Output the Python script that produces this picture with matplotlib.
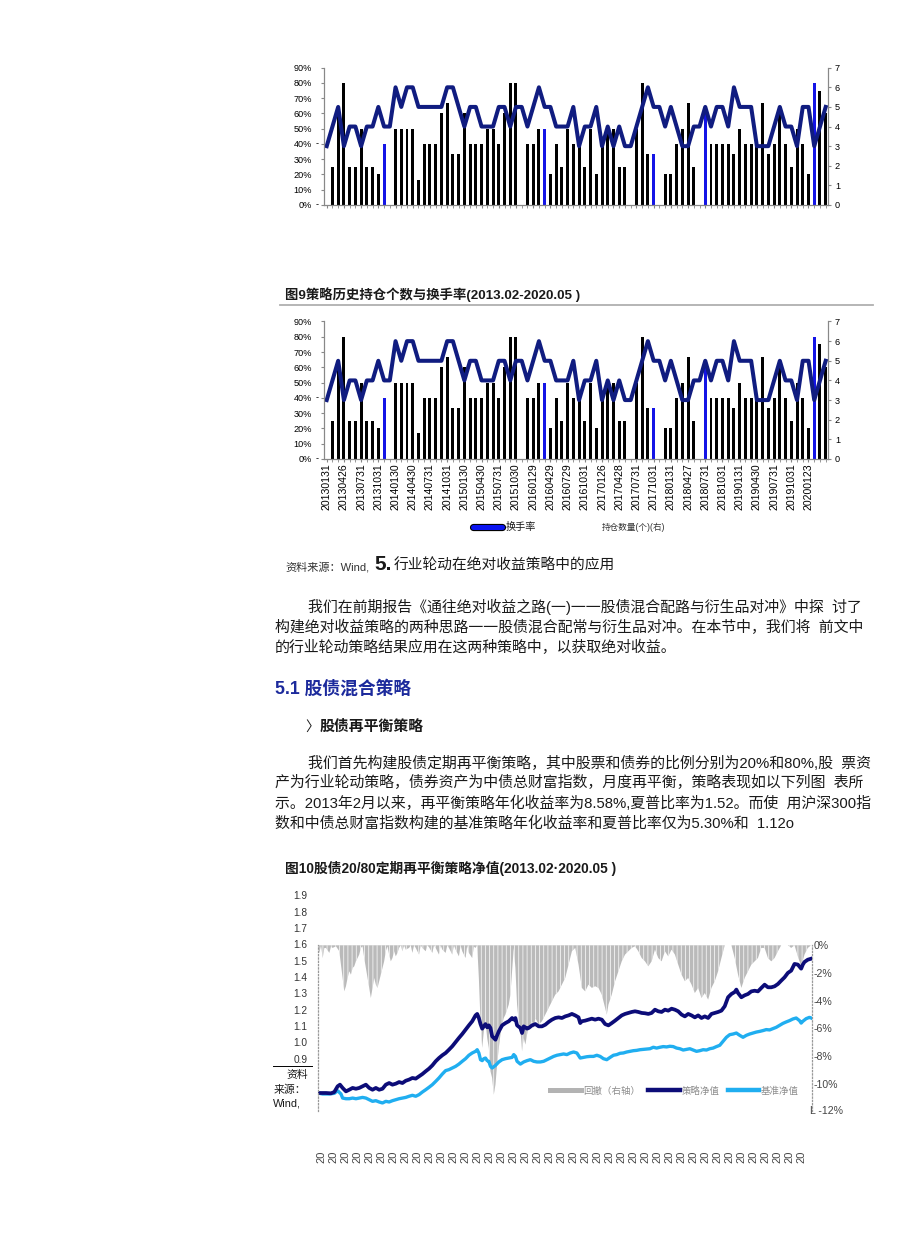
import numpy as np
import matplotlib
matplotlib.use("Agg")
import matplotlib.pyplot as plt
from matplotlib.lines import Line2D
import matplotlib.patheffects as pe

plt.rcParams['font.family'] = ['Liberation Sans', 'Noto Sans CJK SC']
plt.rcParams['hatch.linewidth'] = 0.5

W, H = 920, 1237

# ---- 图9: monthly turnover (bars, left %) and number of holdings (line, right) ----
turnover = [0, 25, 60, 80, 25, 25, 50, 25, 25, 20,
            40, 0, 50, 50, 50, 50, 16.7, 40, 40, 40,
            60, 66.7, 33.3, 33.3, 60, 40, 40, 40, 50, 50,
            40, 60, 80, 80, 0, 40, 40, 50, 50, 20,
            40, 25, 50, 40, 40, 25, 50, 20, 40, 50,
            50, 25, 25, 0, 50, 80, 33.3, 33.3, 0, 20,
            20, 40, 50, 66.7, 25, 0, 60, 40, 40, 40,
            40, 33.3, 50, 40, 40, 40, 66.7, 33.3, 40, 60,
            40, 25, 50, 40, 20, 80, 75, 60]
holdings = [3, 4, 5, 3, 4, 4, 3, 4, 4, 5,
            4, 4, 6, 5, 6, 6, 5, 5, 5, 5,
            5, 6, 6, 5, 4, 5, 5, 4, 4, 4,
            5, 5, 4, 5, 5, 4, 5, 6, 5, 5,
            4, 4, 4, 5, 3, 4, 4, 5, 3, 4,
            3, 4, 3, 3, 4, 5, 6, 5, 5, 4,
            5, 4, 3, 3, 4, 4, 5, 4, 5, 5,
            4, 6, 5, 5, 5, 3, 3, 3, 4, 5,
            4, 4, 3, 5, 5, 3, 4, 5]
blue_idx = [10, 38, 57, 66, 85]
date_labels = ['20130131', '20130426', '20130731', '20131031', '20140130', '20140430',
               '20140731', '20141031', '20150130', '20150430', '20150731', '20151030',
               '20160129', '20160429', '20160729', '20161031', '20170126', '20170428',
               '20170731', '20171031', '20180131', '20180427', '20180731', '20181031',
               '20190131', '20190430', '20190731', '20191031', '20200123']

# ---- 图10: net value (left) and drawdown (right), x = trading-day index ----
strat_day = [5, 15, 30, 45, 55, 65, 72, 80, 90, 100, 110, 120, 130, 140, 150, 160, 170, 180, 190, 200,
             210, 220, 230, 240, 250, 260, 270, 280, 290, 300, 310, 320, 330, 340, 350, 360, 370, 380, 390, 400,
             410, 420, 430, 440, 450, 460, 470, 480, 485, 490, 495, 500, 505, 510, 515, 520, 525, 530, 535, 540,
             545, 550, 560, 570, 580, 590, 595, 600, 605, 615, 620, 625, 635, 640, 650, 660, 670, 680, 690, 700,
             710, 720, 730, 740, 750, 760, 770, 780, 790, 795, 800, 810, 820, 830, 840, 850, 860, 870, 880, 890,
             900, 910, 920, 930, 940, 950, 960, 970, 980, 990, 1000, 1010, 1020, 1030, 1040, 1050, 1060, 1070, 1080, 1090,
             1100, 1110, 1120, 1130, 1140, 1150, 1160, 1170, 1180, 1190, 1200, 1210, 1220, 1230, 1240, 1250, 1260, 1265, 1270, 1280,
             1290, 1300, 1310, 1320, 1330, 1340, 1350, 1360, 1370, 1380, 1390, 1400, 1410, 1420, 1430, 1440, 1450, 1460, 1465, 1470,
             1480, 1490]
strat_val = [0.696, 0.696, 0.696, 0.694, 0.702, 0.737, 0.747, 0.727, 0.706, 0.716, 0.727, 0.722, 0.727, 0.737, 0.747, 0.727, 0.716, 0.727, 0.716, 0.722,
             0.747, 0.757, 0.747, 0.753, 0.763, 0.757, 0.771, 0.778, 0.788, 0.784, 0.798, 0.812, 0.829, 0.845, 0.865, 0.890, 0.910, 0.927, 0.941, 0.961,
             0.982, 1.008, 1.033, 1.057, 1.084, 1.110, 1.135, 1.171, 1.180, 1.155, 1.118, 1.090, 1.104, 1.118, 1.098, 1.110, 1.094, 1.043, 1.033, 1.022,
             1.049, 1.073, 1.110, 1.124, 1.135, 1.155, 1.145, 1.155, 1.110, 1.094, 1.063, 1.104, 1.090, 1.094, 1.110, 1.118, 1.104, 1.104, 1.114, 1.131,
             1.145, 1.155, 1.159, 1.155, 1.165, 1.171, 1.180, 1.171, 1.159, 1.124, 1.135, 1.139, 1.145, 1.151, 1.145, 1.151, 1.145, 1.118, 1.110, 1.124,
             1.139, 1.155, 1.171, 1.180, 1.186, 1.192, 1.196, 1.192, 1.186, 1.184, 1.180, 1.186, 1.206, 1.196, 1.192, 1.206, 1.200, 1.212, 1.206, 1.196,
             1.176, 1.165, 1.180, 1.171, 1.159, 1.171, 1.155, 1.165, 1.155, 1.180, 1.186, 1.192, 1.200, 1.227, 1.282, 1.302, 1.314, 1.329, 1.308, 1.282,
             1.294, 1.302, 1.318, 1.322, 1.318, 1.339, 1.359, 1.343, 1.343, 1.349, 1.363, 1.384, 1.404, 1.431, 1.445, 1.486, 1.482, 1.457, 1.482, 1.498,
             1.512, 1.518]
bench_day = [5, 20, 40, 55, 65, 75, 80, 90, 100, 110, 120, 130, 140, 150, 160, 170, 180, 190, 200, 210,
             220, 230, 240, 250, 260, 270, 280, 290, 300, 310, 320, 330, 340, 350, 360, 370, 380, 390, 400, 410,
             420, 430, 440, 450, 460, 470, 480, 485, 490, 495, 500, 505, 510, 515, 520, 525, 530, 540, 550, 560,
             570, 580, 590, 595, 600, 605, 615, 625, 635, 645, 655, 665, 675, 685, 695, 705, 715, 725, 735, 745,
             755, 765, 775, 785, 795, 805, 815, 825, 835, 845, 855, 865, 875, 885, 895, 905, 915, 925, 935, 945,
             955, 965, 975, 985, 995, 1005, 1015, 1025, 1035, 1045, 1055, 1065, 1075, 1085, 1095, 1105, 1115, 1125, 1135, 1145,
             1155, 1165, 1175, 1185, 1195, 1205, 1215, 1225, 1235, 1245, 1255, 1265, 1275, 1285, 1295, 1305, 1315, 1325, 1335, 1345,
             1355, 1365, 1375, 1385, 1395, 1405, 1415, 1425, 1435, 1445, 1455, 1460, 1465, 1475, 1485, 1490]
bench_val = [0.696, 0.690, 0.690, 0.694, 0.710, 0.690, 0.665, 0.661, 0.661, 0.665, 0.661, 0.665, 0.669, 0.665, 0.655, 0.645, 0.649, 0.641, 0.635, 0.645,
             0.641, 0.649, 0.655, 0.661, 0.665, 0.669, 0.676, 0.682, 0.676, 0.686, 0.702, 0.716, 0.731, 0.747, 0.767, 0.788, 0.812, 0.833, 0.839, 0.849,
             0.859, 0.873, 0.890, 0.906, 0.927, 0.941, 0.951, 0.961, 0.941, 0.900, 0.894, 0.906, 0.910, 0.894, 0.890, 0.859, 0.849, 0.865, 0.886, 0.900,
             0.906, 0.910, 0.914, 0.931, 0.920, 0.890, 0.873, 0.886, 0.894, 0.900, 0.890, 0.886, 0.886, 0.890, 0.900, 0.910, 0.920, 0.927, 0.931, 0.935,
             0.931, 0.941, 0.947, 0.941, 0.910, 0.914, 0.918, 0.920, 0.920, 0.927, 0.920, 0.906, 0.900, 0.914, 0.927, 0.931, 0.939, 0.941, 0.947, 0.951,
             0.955, 0.957, 0.961, 0.963, 0.965, 0.967, 0.976, 0.971, 0.976, 0.980, 0.978, 0.982, 0.980, 0.971, 0.967, 0.959, 0.963, 0.967, 0.959, 0.951,
             0.955, 0.961, 0.959, 0.967, 0.971, 0.980, 0.988, 1.012, 1.037, 1.053, 1.057, 1.063, 1.049, 1.037, 1.049, 1.057, 1.063, 1.069, 1.073, 1.078,
             1.084, 1.082, 1.090, 1.098, 1.110, 1.122, 1.131, 1.139, 1.149, 1.155, 1.139, 1.124, 1.135, 1.151, 1.159, 1.155]
dd_day = [5, 10, 15, 20, 25, 30, 40, 45, 50, 60, 70, 75, 80, 85, 90, 95, 100, 105, 110, 115,
          120, 125, 130, 135, 140, 145, 150, 155, 160, 165, 170, 175, 180, 185, 190, 195, 200, 205, 210, 215,
          220, 225, 230, 235, 240, 245, 250, 255, 260, 265, 270, 280, 285, 290, 295, 300, 310, 315, 320, 330,
          335, 340, 350, 355, 360, 370, 375, 380, 390, 395, 400, 410, 415, 420, 430, 435, 440, 450, 455, 460,
          470, 475, 480, 485, 490, 495, 500, 505, 510, 515, 520, 525, 530, 535, 540, 545, 550, 555, 560, 565,
          570, 575, 580, 585, 590, 595, 600, 605, 610, 615, 620, 625, 630, 635, 640, 645, 650, 655, 660, 670,
          680, 690, 700, 710, 720, 730, 740, 750, 760, 770, 780, 790, 800, 810, 820, 830, 840, 850, 860, 870,
          875, 880, 890, 900, 910, 920, 930, 940, 950, 960, 970, 980, 990, 1000, 1010, 1020, 1030, 1040, 1050, 1060,
          1070, 1080, 1090, 1100, 1110, 1120, 1130, 1140, 1150, 1160, 1170, 1180, 1190, 1200, 1210, 1220, 1230, 1240, 1250, 1260,
          1270, 1280, 1290, 1300, 1310, 1320, 1330, 1340, 1350, 1360, 1370, 1380, 1390, 1400, 1410, 1420, 1430, 1440, 1450, 1460,
          1470, 1480, 1490]
dd_pct = [0, -0.55, 0, -0.92, -0.2, -0.19, -0.55, -0.1, -0.19, -0.07, -0.43, -1.40, -2.36, -3.33, -2.96, -2.36, -1.88, -2.12, -1.64, -1.52,
          -1.16, -0.92, -0.67, -0.19, -0.07, -0.92, -1.64, -2.36, -3.08, -3.81, -3.08, -2.36, -2.84, -3.08, -2.60, -2.12, -1.64, -1.16, -0.43, -0.07,
          -0.67, -1.16, -0.92, -0.43, -0.80, -0.55, -0.19, 0, -0.43, 0, -0.31, -0.19, 0, -0.55, 0, -0.19, -0.67, 0, -0.19, -0.43,
          0, -0.14, -0.55, 0, -0.19, -0.67, 0, -0.31, -0.55, 0, -0.19, -0.67, 0, -0.31, -0.80, 0, -0.43, -0.92, 0, -0.55,
          -0.92, -0.1, -0.19, 0, -2.36, -5.49, -7.42, -6.22, -5.49, -6.70, -7.42, -9.11, -9.59, -10.80, -10.07, -8.63, -7.42, -6.46, -5.73, -5.25,
          -5.01, -4.65, -4.29, -3.57, -1.88, -0.19, -1.64, -4.29, -5.49, -5.98, -7.66, -6.70, -7.18, -6.46, -5.98, -5.73, -5.49, -5.98, -5.25, -5.73,
          -5.49, -5.01, -4.53, -4.05, -3.57, -3.33, -2.84, -2.36, -1.40, -0.43, -0.19, -1.40, -3.08, -3.33, -2.84, -3.08, -2.96, -3.08, -3.57, -4.53,
          -5.01, -4.29, -3.57, -2.60, -1.88, -1.16, -0.67, -0.43, -0.19, -0.07, -0.43, -0.92, -1.16, -1.52, -1.16, -0.31, -0.92, -1.16, -0.43, -0.80,
          -0.31, -0.67, -1.40, -2.12, -2.60, -2.36, -2.84, -3.45, -3.08, -3.81, -3.45, -3.93, -3.08, -2.60, -1.88, -0.92, 0, 0, 0, -0.92,
          -2.12, -3.08, -2.36, -1.88, -1.40, -1.16, -0.92, -0.19, -0.19, -0.92, -1.16, -0.92, -0.43, 0, 0, 0, -0.19, 0, -0.80, -1.52,
          -0.67, -0.19, 0]
left_ticks = [0.9, 1.0, 1.1, 1.2, 1.3, 1.4, 1.5, 1.6, 1.7, 1.8, 1.9]
right_ticks = [0, -2, -4, -6, -8, -10]

NAVY = '#101c80'
TXT = '#1a1a1a'


def box(l, t, r, b):
    return [l / W, 1 - b / H, (r - l) / W, (b - t) / H]


def ftext(x, y, s, **kw):
    kw.setdefault('va', 'center')
    kw.setdefault('color', TXT)
    fig.text(x / W, 1 - y / H, s, **kw)


def draw_hold_chart(rect, with_labels):
    ax = fig.add_axes(rect)
    x = np.arange(len(turnover))
    colors = ['#1414e6' if i in blue_idx else 'black' for i in x]
    ax.bar(x, turnover, width=0.52, color=colors)
    ax.set_xlim(-0.42, 87.4)
    ax.set_ylim(0, 90)
    ax.set_yticks(range(0, 91, 10))
    ax.set_yticklabels([f'{v}%' for v in range(0, 91, 10)])
    ax.set_xticks(x[:3 * len(date_labels):3])
    ax.set_xticks(x, minor=True)
    if with_labels:
        ax.set_xticklabels(date_labels, rotation=90, fontsize=7.6)
    else:
        ax.set_xticklabels([])
    ax.tick_params(axis='x', which='both', length=2, color='#888', pad=1)
    ax.tick_params(axis='y', length=2.5, color='#888', labelsize=6.6, pad=6.3)
    for v in (0, 40):
        ax.text(-0.0135, v, '-', transform=ax.get_yaxis_transform(),
                ha='center', va='center', fontsize=6.6)
    ax2 = ax.twinx()
    ax2.plot(x, holdings, color=NAVY, lw=2.9)
    ax2.set_ylim(0, 7)
    ax2.set_yticks(range(0, 8))
    ax2.tick_params(axis='y', length=2.5, color='#888', labelsize=6.6, pad=2.5)
    for a in (ax, ax2):
        a.spines['top'].set_visible(False)
        for s in ('left', 'right', 'bottom'):
            a.spines[s].set_color('#888')
            a.spines[s].set_linewidth(0.8)
    return ax


fig = plt.figure(figsize=(W / 100, H / 100), dpi=100)

# chart at top (cut copy) and 图9
draw_hold_chart(box(324.3, 67.7, 828, 205), False)
ftext(285, 295, '图9策略历史持仓个数与换手率(2013.02-2020.05 )', fontsize=9.6, weight='bold')
fig.add_artist(Line2D([280 / W, 873 / W], [1 - 305 / H] * 2, color='#b0b0b0', lw=1.3))
draw_hold_chart(box(324.3, 321.5, 828, 459), True)

fig.add_artist(Line2D([473 / W, 502 / W], [1 - 527 / H] * 2, color='#0a14f0', lw=3.6,
                      solid_capstyle='round',
                      path_effects=[pe.Stroke(linewidth=5.2, foreground='black'), pe.Normal()]))
ftext(506, 527, '换手率', fontsize=7.3)
ftext(602, 527, '持仓数量(个)(右)', fontsize=6.2, color='#333')

# text block
ftext(285, 570, '资料来源：Wind,', fontsize=8, color='#333', va='baseline')
ftext(374, 570, '5.', fontsize=15, weight='bold', va='baseline')
ftext(394, 570, '行业轮动在绝对收益策略中的应用', fontsize=10.6, va='baseline')

para1 = ['我们在前期报告《通往绝对收益之路(一)一一股债混合配路与衍生品对冲》中探  讨了',
         '构建绝对收益策略的两种思路一一股债混合配常与衍生品对冲。在本节中，我们将  前文中',
         '的行业轮动策略结果应用在这两种策略中，以获取绝对收益。']
for i, line in enumerate(para1):
    ftext(308 if i == 0 else 275, 607 + 20 * i, line, fontsize=10.75)

ftext(275, 689, '5.1 股债混合策略', fontsize=12.8, color='#1c2a9c', weight='bold')
ftext(305, 727, '〉', fontsize=10)
ftext(320, 727, '股债再平衡策略', fontsize=10.7, weight='bold')

para2 = ['我们首先构建股债定期再平衡策略，其中股票和债券的比例分别为20%和80%,股  票资',
         '产为行业轮动策略，债券资产为中债总财富指数，月度再平衡，策略表现如以下列图  表所',
         '示。2013年2月以来，再平衡策略年化收益率为8.58%,夏普比率为1.52。而使  用沪深300指',
         '数和中债总财富指数构建的基准策略年化收益率和夏普比率仅为5.30%和  1.12o']
for i, line in enumerate(para2):
    ftext(308 if i == 0 else 275, 763 + 20 * i, line, fontsize=10.75)

ftext(285, 868, '图10股债20/80定期再平衡策略净值(2013.02·2020.05 )', fontsize=9.9, weight='bold')

# 图10 chart
ax = fig.add_axes(box(317.7, 945.3, 811.8, 1111.3))
ax2 = ax.twinx()
ax2.fill_between(dd_day, dd_pct, 0, facecolor='#bababa', edgecolor='white', hatch='||||', lw=0)
ax2.set_ylim(-12, 0)
ax.set_zorder(ax2.get_zorder() + 1)
ax.patch.set_visible(False)
ax.plot(bench_day, bench_val, color='#20aef0', lw=2.4)
ax.plot(strat_day, strat_val, color='#0c0c78', lw=2.7)
ax.set_ylim(0.584, 1.6)
ax.set_xlim(5, 1492)
ax.set_yticks([])
ax.set_xticks(np.linspace(15, 1461, 41))
ax.set_xticklabels(['20'] * 41, rotation=90, fontsize=8, color='#444')
ax.tick_params(axis='x', length=0, pad=28)
for v in left_ticks:
    ax.text(-0.0202, v, f'{v:.1f}', transform=ax.get_yaxis_transform(),
            ha='right', va='center', fontsize=7.3, color='#333', clip_on=False)
ax2.set_yticks(right_ticks)
ax2.set_yticklabels([f'{v}%' for v in right_ticks])
ax2.tick_params(axis='y', length=0, pad=1.5, labelsize=7.6, labelcolor='#444')
ax2.text(0.996, -12, 'L -12%', transform=ax2.get_yaxis_transform(),
         ha='left', va='center', fontsize=7.6, color='#444')
for a in (ax, ax2):
    for s in ('top', 'bottom'):
        a.spines[s].set_visible(False)
ax2.spines['left'].set_visible(False)
ax.spines['right'].set_visible(False)
for a, s in ((ax, 'left'), (ax2, 'right')):
    a.spines[s].set_linestyle(':')
    a.spines[s].set_color('#999')
    a.spines[s].set_linewidth(0.9)

handles = [Line2D([], [], color='#b3b3b3', lw=3.6),
           Line2D([], [], color='#0c0c78', lw=3.2),
           Line2D([], [], color='#20aef0', lw=3.2)]
ax.legend(handles, ['回撤（右轴）', '策略净值', '基准净值'], ncol=3, loc='center right',
          bbox_to_anchor=(0.974, 0.124), frameon=False, fontsize=6.8, handlelength=3.3,
          handletextpad=0.2, columnspacing=0.9, labelcolor='#8c8c8c',
          borderaxespad=0, borderpad=0)

# source note squeezed beside the axis
fig.add_artist(Line2D([273 / W, 312 / W], [1 - 1066 / H] * 2, color='black', lw=0.7))
ftext(308, 1075, '资料', fontsize=7.8, ha='right')
ftext(274, 1090, '来源：', fontsize=7.8)
ftext(273, 1104, 'Wind,', fontsize=7.8)

fig.savefig('out.png', dpi=100)
